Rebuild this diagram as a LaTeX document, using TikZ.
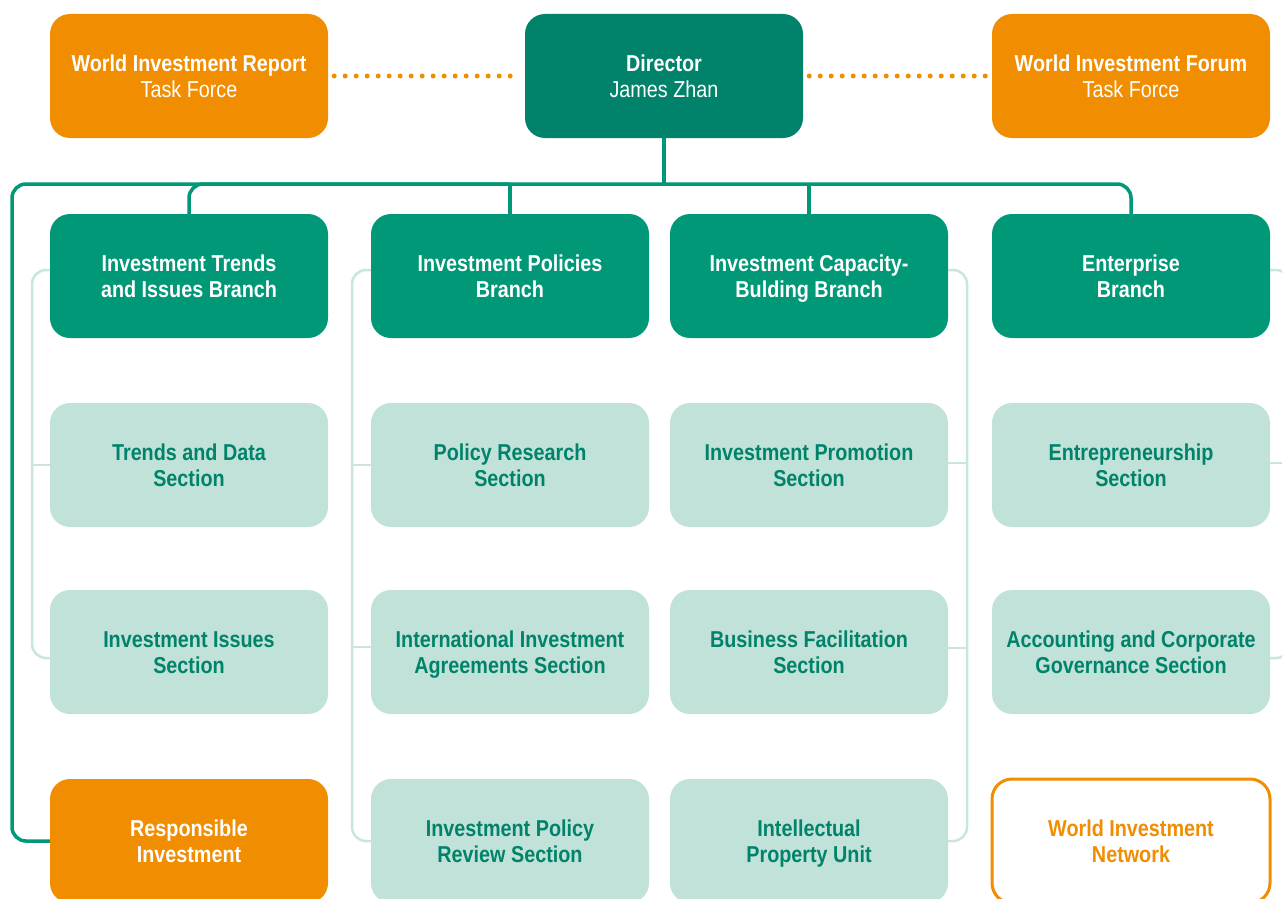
\documentclass[tikz,border=0pt]{standalone}
\usepackage{fontspec}
\setmainfont{Liberation Sans}[FakeStretch=0.86]
\definecolor{unctgreen}{HTML}{009877}
\definecolor{unctdark}{HTML}{00836A}
\definecolor{unctmint}{HTML}{C1E2D9}
\definecolor{unctline}{HTML}{C8E6DC}
\definecolor{unctorange}{HTML}{F18D00}
\tikzset{
  orgbox/.style={rectangle, rounded corners=20pt, minimum width=278pt, minimum height=124pt,
    inner sep=0pt, align=center, font=\fontsize{23}{26}\selectfont,
    text height=43pt, text depth=0pt},
  dirbox/.style={orgbox, fill=unctdark, text=white},
  forcebox/.style={orgbox, fill=unctorange, text=white},
  branchbox/.style={orgbox, fill=unctgreen, text=white, font=\fontsize{23}{26}\selectfont\bfseries},
  sectionbox/.style={orgbox, fill=unctmint, text=unctdark, font=\fontsize{23}{26}\selectfont\bfseries},
  netbox/.style={orgbox, draw=unctorange, line width=3pt, fill=white, text=unctorange,
    font=\fontsize{23}{26}\selectfont\bfseries},
  trunk/.style={draw=unctgreen, line width=3.5pt, rounded corners=14pt},
  twig/.style={draw=unctline, line width=2.5pt, rounded corners=14pt},
  dotline/.style={draw=unctorange, line width=5pt, line cap=round, dash pattern=on 0pt off 11pt,
    shorten <=6pt, shorten >=6pt}
}
\begin{document}
\begin{tikzpicture}[x=1pt,y=-1pt]
  \clip (0,0) rectangle (1282,899);
  \path
    (189,76) node[forcebox] (wir) {\textbf{World Investment Report}\\Task Force}
    (664,76) node[dirbox] (dir) {\textbf{Director}\\James Zhan}
    (1131,76) node[forcebox] (wif) {\textbf{World Investment Forum}\\Task Force}
    (189,276) node[branchbox] (itb) {Investment Trends\\and Issues Branch}
    (510,276) node[branchbox] (ipb) {Investment Policies\\Branch}
    (809,276) node[branchbox] (icb) {Investment Capacity-\\Bulding Branch}
    (1131,276) node[branchbox] (enb) {Enterprise\\Branch}
    (189,465) node[sectionbox] (tds) {Trends and Data\\Section}
    (510,465) node[sectionbox] (prs) {Policy Research\\Section}
    (809,465) node[sectionbox] (ips) {Investment Promotion\\Section}
    (1131,465) node[sectionbox] (ens) {Entrepreneurship\\Section}
    (189,652) node[sectionbox] (iis) {Investment Issues\\Section}
    (510,652) node[sectionbox] (iia) {International Investment\\Agreements Section}
    (809,652) node[sectionbox] (bfs) {Business Facilitation\\Section}
    (1131,652) node[sectionbox] (acg) {Accounting and Corporate\\Governance Section}
    (189,841) node[forcebox, font=\fontsize{23}{26}\selectfont\bfseries] (ri) {Responsible\\Investment}
    (510,841) node[sectionbox] (irs) {Investment Policy\\Review Section}
    (809,841) node[sectionbox] (ipu) {Intellectual\\Property Unit}
    (1131,841) node[netbox] (win) {World Investment\\Network};
  \coordinate (bus) at (0,184);
  \coordinate (rail) at (12,0);
  \coordinate (railA) at (32,0);
  \coordinate (railB) at (352,0);
  \coordinate (railC) at (967,0);
  \coordinate (railD) at (1290,0);
  \begin{scope}
    \draw[dotline] (wir) -- (dir);
    \draw[dotline] (dir) -- (wif);
    \draw[trunk] (dir.south) -- (dir.south |- bus);
    \draw[trunk] (itb.north) |- (enb.north |- bus) -- (enb.north);
    \draw[trunk] (ipb.north) -- (ipb.north |- bus);
    \draw[trunk] (icb.north) -- (icb.north |- bus);
    \draw[trunk] (ipb.north |- bus) -| (rail |- ri.west) -- (ri.west);
  \end{scope}
  \begin{scope}
    \draw[twig] ([yshift=6pt]itb.west) -- ([yshift=6pt]itb.west -| railA)
      -- ([yshift=-6pt]iis.west -| railA) -- ([yshift=-6pt]iis.west);
    \draw[twig] (tds.west) -- (tds.west -| railA);
    \draw[twig] ([yshift=6pt]ipb.west) -- ([yshift=6pt]ipb.west -| railB)
      -- (irs.west -| railB) -- (irs.west);
    \draw[twig] (prs.west) -- (prs.west -| railB);
    \draw[twig] ([yshift=5pt]iia.west) -- ([yshift=5pt]iia.west -| railB);
    \draw[twig] ([yshift=6pt]icb.east) -- ([yshift=6pt]icb.east -| railC)
      -- (ipu.east -| railC) -- (ipu.east);
    \draw[twig] ([yshift=2pt]ips.east) -- ([yshift=2pt]ips.east -| railC);
    \draw[twig] ([yshift=4pt]bfs.east) -- ([yshift=4pt]bfs.east -| railC);
    \draw[twig] ([yshift=6pt]enb.east) -- ([yshift=6pt]enb.east -| railD)
      -- ([yshift=-6pt]acg.east -| railD) -- ([yshift=-6pt]acg.east);
    \draw[twig] ([yshift=2pt]ens.east) -- ([yshift=2pt]ens.east -| railD);
  \end{scope}
\end{tikzpicture}
\end{document}
